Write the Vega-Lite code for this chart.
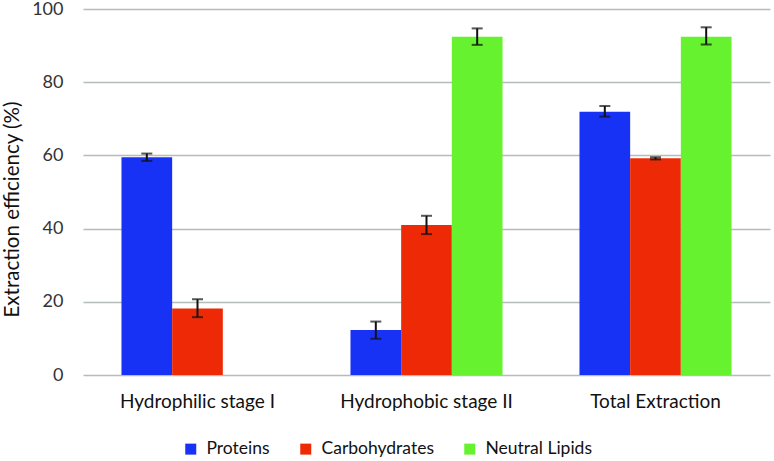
{
  "$schema": "https://vega.github.io/schema/vega-lite/v6.json",
  "width": 687,
  "height": 366,
  "autosize": {"type": "none"},
  "padding": {"left": 83, "top": 9, "right": 4, "bottom": 86},
  "background": "white",
  "config": {
    "font": "Lato",
    "view": {"stroke": null}
  },
  "data": {
    "values": [
      {"stage": "Hydrophilic stage I", "series": "Proteins", "value": 59.5, "lo": 58.5, "hi": 60.5},
      {"stage": "Hydrophilic stage I", "series": "Carbohydrates", "value": 18.2, "lo": 15.8, "hi": 20.7},
      {"stage": "Hydrophobic stage II", "series": "Proteins", "value": 12.3, "lo": 9.9, "hi": 14.6},
      {"stage": "Hydrophobic stage II", "series": "Carbohydrates", "value": 41.0, "lo": 38.5, "hi": 43.5},
      {"stage": "Hydrophobic stage II", "series": "Neutral Lipids", "value": 92.4, "lo": 90.2, "hi": 94.7},
      {"stage": "Total Extraction", "series": "Proteins", "value": 71.9, "lo": 70.6, "hi": 73.5},
      {"stage": "Total Extraction", "series": "Carbohydrates", "value": 59.2, "lo": 58.9, "hi": 59.5},
      {"stage": "Total Extraction", "series": "Neutral Lipids", "value": 92.4, "lo": 90.3, "hi": 95.0}
    ]
  },
  "encoding": {
    "x": {
      "field": "stage",
      "type": "nominal",
      "sort": ["Hydrophilic stage I", "Hydrophobic stage II", "Total Extraction"],
      "scale": {"paddingInner": 0.336, "paddingOuter": 0.168},
      "axis": {
        "title": null,
        "labelAngle": 0,
        "labelFontSize": 19,
        "labelColor": "#111111",
        "labelPadding": 17,
        "ticks": false,
        "domain": false
      }
    },
    "xOffset": {
      "field": "series",
      "type": "nominal",
      "scale": {"domain": ["Proteins", "Carbohydrates", "Neutral Lipids"], "paddingInner": 0, "paddingOuter": 0}
    }
  },
  "layer": [
    {
      "mark": {"type": "bar"},
      "encoding": {
        "y": {
          "field": "value",
          "type": "quantitative",
          "scale": {"domain": [0, 100]},
          "axis": {
            "title": "Extraction efficiency (%)",
            "titleFontSize": 20.5,
            "titleFontWeight": "normal",
            "titleColor": "#111111",
            "titleX": -71,
            "titleY": 200,
            "titleAngle": -90,
            "titleBaseline": "middle",
            "titleAlign": "center",
            "values": [0, 20, 40, 60, 80, 100],
            "labelFontSize": 18,
            "labelColor": "#333333",
            "labelPadding": 20,
            "ticks": false,
            "domain": false,
            "grid": true,
            "gridColor": "#b4bcbc",
            "gridWidth": 1.5
          }
        },
        "color": {
          "field": "series",
          "type": "nominal",
          "scale": {
            "domain": ["Proteins", "Carbohydrates", "Neutral Lipids"],
            "range": ["#1832F5", "#EE2A06", "#66F22E"]
          },
          "legend": {
            "title": null,
            "orient": "none",
            "direction": "horizontal",
            "legendX": 99,
            "legendY": 431,
            "symbolType": "square",
            "symbolSize": 121,
            "symbolStrokeWidth": 0,
            "labelFontSize": 17.5,
            "labelColor": "#111111",
            "labelOffset": 7,
            "columnPadding": 27
          }
        }
      }
    },
    {
      "mark": {"type": "rule", "color": "#111111", "strokeWidth": 2},
      "encoding": {
        "y": {"field": "lo", "type": "quantitative"},
        "y2": {"field": "hi"}
      }
    },
    {
      "mark": {"type": "tick", "color": "#111111", "thickness": 2, "size": 11},
      "encoding": {
        "y": {"field": "lo", "type": "quantitative"}
      }
    },
    {
      "mark": {"type": "tick", "color": "#111111", "thickness": 2, "size": 11},
      "encoding": {
        "y": {"field": "hi", "type": "quantitative"}
      }
    }
  ]
}
